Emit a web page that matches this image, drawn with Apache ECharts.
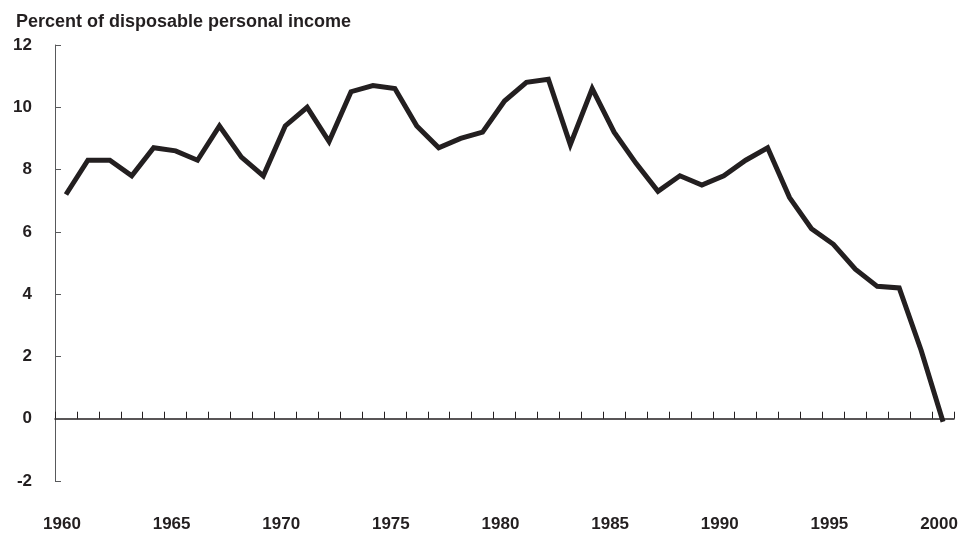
<!DOCTYPE html>
<html>
<head>
<meta charset="utf-8">
<script src="https://cdn.jsdelivr.net/npm/echarts@6/dist/echarts.min.js"></script>
<style>
  html, body { margin: 0; padding: 0; background: #fff; }
  #chart { width: 972px; height: 533px; }
</style>
</head>
<body>
<div id="chart"></div>
<script>
// Years on the x axis
const years = [];
for (let y = 1960; y <= 2000; y++) years.push(String(y));

// Saving rate, percent of disposable personal income
const savingRate = [
  7.2, 8.3, 8.3, 7.8, 8.7, 8.6, 8.3, 9.4, 8.4, 7.8,
  9.4, 10.0, 8.9, 10.5, 10.7, 10.6, 9.4, 8.7, 9.0, 9.2,
  10.2, 10.8, 10.9, 8.8, 10.6, 9.2, 8.2, 7.3, 7.8, 7.5,
  7.8, 8.3, 8.7, 7.1, 6.1, 5.6, 4.8, 4.25, 4.2, 2.2,
  -0.1
];

const titleText = 'Percent of disposable personal income';

const ink = '#231f20';
const font = '"Liberation Sans", Arial, sans-serif';

const chart = echarts.init(document.getElementById('chart'));
chart.setOption({
  animation: false,
  title: {
    text: titleText,
    left: 11,
    top: 8,
    textStyle: { fontFamily: font, fontWeight: 'bold', fontSize: 18, color: ink }
  },
  grid: { left: 55, right: 18, top: 45, bottom: 50.5 },
  xAxis: [
    {
      // zero line with year ticks
      type: 'category',
      data: years,
      boundaryGap: true,
      axisLine: { onZero: true, lineStyle: { color: ink, width: 1.5 } },
      axisTick: { show: true, inside: true, length: 7, interval: 0, lineStyle: { color: ink, width: 1 } },
      axisLabel: { show: false },
      splitLine: { show: false }
    },
    {
      // year labels along the bottom
      type: 'category',
      data: years,
      position: 'bottom',
      boundaryGap: true,
      axisLine: { show: false, onZero: false },
      axisTick: { show: false },
      axisLabel: {
        interval: 4,
        margin: 35,
        padding: [0, 8, 0, 0],
        fontFamily: font, fontWeight: 'bold', fontSize: 17, color: ink
      },
      splitLine: { show: false }
    }
  ],
  yAxis: {
    type: 'value',
    min: -2,
    max: 12,
    interval: 2,
    axisLine: { show: true, lineStyle: { color: '#58595b', width: 1 } },
    axisTick: { show: true, inside: true, length: 6, lineStyle: { color: '#58595b' } },
    axisLabel: {
      margin: 23,
      padding: [6, 0, 0, 0],
      fontFamily: font, fontWeight: 'bold', fontSize: 17, color: ink
    },
    splitLine: { show: false }
  },
  series: [
    {
      type: 'line',
      xAxisIndex: 0,
      data: savingRate,
      symbol: 'none',
      lineStyle: { color: ink, width: 5, join: 'miter', cap: 'butt' }
    }
  ]
});
</script>
</body>
</html>
